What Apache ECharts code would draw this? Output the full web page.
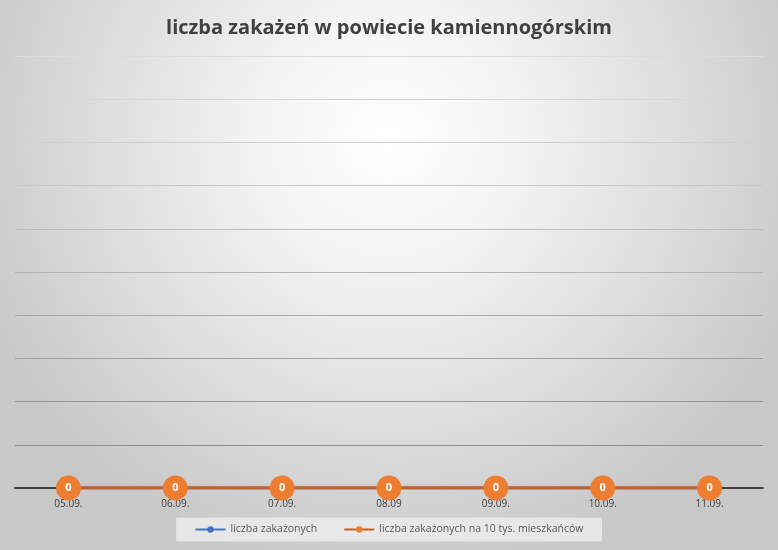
<!DOCTYPE html>
<html lang="pl">
<head>
<meta charset="UTF-8">
<title>liczba zakażeń w powiecie kamiennogórskim</title>
<script src="https://cdn.jsdelivr.net/npm/echarts@6/dist/echarts.min.js"></script>
<style>
  html, body { margin: 0; padding: 0; }
  #chart { width: 778px; height: 550px; }
</style>
</head>
<body>
<div id="chart"></div>
<script>
// dane
var days = ['05.09.', '06.09.', '07.09.', '08.09', '09.09.', '10.09.', '11.09.'];
var infected = [0, 0, 0, 0, 0, 0, 0];
var infectedPer10k = [0, 0, 0, 0, 0, 0, 0];
var yMin = 0, yMax = 10, yStep = 1;

var chart = echarts.init(document.getElementById('chart'));

// linie siatki ciemnieją ku dołowi (jak w oryginale)
var gridColors = ['#8a8a8a', '#8e8e8e', '#969696', '#a0a0a0', '#aaaaaa', '#b4b4b4',
                  '#bebebe', '#c8c8c8', '#d0d0d0', '#d6d6d6', '#dcdcdc'];

var option = {
  backgroundColor: new echarts.graphic.RadialGradient(0.5, 0.25, 0.8, [
    { offset: 0, color: '#ffffff' },
    { offset: 0.3, color: '#f3f3f3' },
    { offset: 0.65, color: '#dedede' },
    { offset: 1, color: '#c8c8c8' }
  ]),
  title: {
    text: 'liczba zakażeń w powiecie kamiennogórskim',
    left: 'center',
    top: 13,
    textStyle: {
      fontFamily: 'Open Sans',
      fontWeight: 'bold',
      fontSize: 20,
      color: '#404040'
    }
  },
  grid: { left: 15, right: 15, top: 56, bottom: 62, containLabel: false },
  xAxis: {
    type: 'category',
    data: days,
    boundaryGap: true,
    axisLine: { lineStyle: { color: '#404040', width: 2 } },
    axisTick: { show: false },
    axisLabel: {
      margin: 11,
      fontFamily: 'Open Sans',
      fontSize: 10,
      color: '#404040'
    }
  },
  yAxis: {
    type: 'value',
    min: yMin,
    max: yMax,
    interval: yStep,
    axisLine: { show: false },
    axisTick: { show: false },
    axisLabel: { show: false },
    splitLine: { lineStyle: { color: gridColors, width: 1 } }
  },
  legend: {
    bottom: 9,
    left: 'center',
    itemGap: 26,
    itemWidth: 30,
    itemHeight: 8,
    padding: [6, 18, 6, 18],
    backgroundColor: 'rgba(240,240,240,0.75)',
    borderColor: '#e4e4e4',
    borderWidth: 1,
    textStyle: { fontFamily: 'Open Sans', fontSize: 10.5, color: '#595959' },
    data: ['liczba zakażonych', 'liczba zakażonych na 10 tys. mieszkańców']
  },
  series: [
    {
      name: 'liczba zakażonych',
      type: 'line',
      data: infected,
      symbol: 'circle',
      symbolSize: 8,
      color: '#4472C4',
      lineStyle: { width: 3, color: '#4472C4' },
      itemStyle: { color: '#4472C4' },
      z: 2
    },
    {
      name: 'liczba zakażonych na 10 tys. mieszkańców',
      type: 'line',
      data: infectedPer10k,
      symbol: 'circle',
      symbolSize: 25,
      color: '#ED7D31',
      lineStyle: { width: 3, color: '#C0622A', shadowColor: 'rgba(237,125,49,0.5)', shadowBlur: 3 },
      itemStyle: { color: '#ED7D31' },
      label: {
        show: true,
        position: 'inside',
        color: '#ffffff',
        fontWeight: 'bold',
        fontFamily: 'Open Sans',
        fontSize: 11
      },
      z: 3
    }
  ]
};

chart.setOption(option);
</script>
</body>
</html>
